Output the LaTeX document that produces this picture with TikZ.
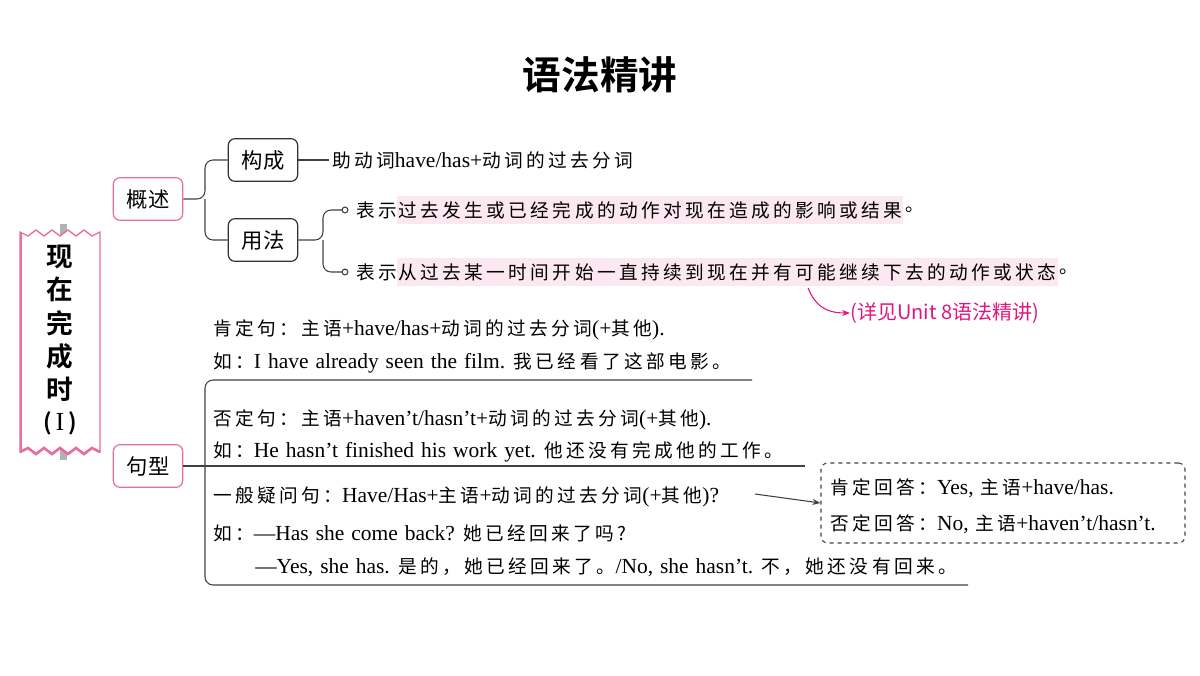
\documentclass[tikz,border=0pt]{standalone}
\usepackage{fontspec}
\setmainfont{Liberation Serif}[Scale=1.15,WordSpace=1.3]
\newfontfamily\cjk{Noto Sans CJK SC}[LetterSpace=18]
\newfontfamily\cjkb{Noto Sans CJK SC Bold}
\newfontfamily\cjkn{Noto Sans CJK SC}
\newcommand\zh[1]{{\cjk #1}}
\definecolor{pk}{RGB}{232,110,160}
\definecolor{mg}{RGB}{225,20,130}
\definecolor{hl}{RGB}{252,232,240}
\usetikzlibrary{arrows.meta,positioning}
\begin{document}
\begin{tikzpicture}[x=0.75pt,y=-0.75pt,
  txt/.style={anchor=west,inner sep=0,font=\fontsize{14}{16}\selectfont},
  pbox/.style={draw=pk,line width=0.9pt,rounded corners=5pt,minimum width=52pt,minimum height=32pt,font=\cjkn\fontsize{16}{18}\selectfont},
  bbox/.style={draw=black!80,line width=0.9pt,rounded corners=5pt,minimum width=52pt,minimum height=32pt,font=\cjkn\fontsize{16}{18}\selectfont},
  ln/.style={draw=black!75,line width=0.8pt},
  hlt/.style={txt,fill=hl,inner ysep=4pt,inner xsep=1pt}]
\useasboundingbox (0,0) rectangle (1200,675);
\node[font=\cjkb\fontsize{29}{32}\selectfont] (title) at (600,75) {语法精讲};
% banner
\fill[gray!60] (60,224) rectangle (67,460);
\filldraw[draw=pk,fill=white,line width=1pt] (20,232) -- (28,236)--(36,230)--(44,236)--(52,230)--(60,236)--(68,230)--(76,236)--(84,230)--(92,236)--(100,232)
 -- (100,452) -- (92,448)--(84,454)--(76,448)--(68,454)--(60,448)--(52,454)--(44,448)--(36,454)--(28,448)--(20,452) -- cycle;
\draw[pk,line width=2.2pt] (21,233) -- (21,451);
\draw[pk,line width=2pt] (20,452) -- (28,448)--(36,454)--(44,448)--(52,454)--(60,448)--(68,454)--(76,448)--(84,454)--(92,448)--(100,452);
\node[font=\cjkb\fontsize{20}{25}\selectfont,align=center] (banner) at (60,340) {现\\在\\完\\成\\时\\[-2pt]{\fontsize{17}{20}\selectfont (\,\textrm{I}\,)}};
% boxes
\node[pbox] (gs) at (148,199) {概述};
\node[pbox] (jx) at (148,466) {句型};
\node[bbox] (gc) at (263,160) {构成};
\node[bbox] (yf) at (263,240) {用法};
\draw[ln,rounded corners=6pt] (gs.east) -- (205,199) |- (gc.west);
\draw[ln,rounded corners=6pt] (205,199) |- (yf.west);
\node[txt] (gct) at (332,160) {\zh{助动词}have/has+\zh{动词的过去分词}};
\draw[ln] (gc.east) -- ([xshift=-2pt]gct.west);
\coordinate (c1) at (345,210); \coordinate (c2) at (345,272);
\draw[ln,rounded corners=6pt] (yf.east) -- (323,240) |- (c1);
\draw[ln,rounded corners=6pt] (323,240) |- (c2);
\draw[ln,fill=white] (c1) circle (2.2pt); \draw[ln,fill=white] (c2) circle (2.2pt);
\node[txt] (u1a) at (356,210) {\zh{表示}};
\node[hlt,right=0pt of u1a] (u1b) {\zh{过去发生或已经完成的动作对现在造成的影响或结果}};
\node[txt,right=1pt of u1b] (u1c) {\zh{。}};
\node[txt] (u2a) at (356,272) {\zh{表示}};
\node[hlt,right=0pt of u2a] (u2b) {\zh{从过去某一时间开始一直持续到现在并有可能继续下去的动作或状态}};
\node[txt,right=1pt of u2b] (u2c) {\zh{。}};
\node[txt,text=mg,font=\cjkn\fontsize{15}{18}\selectfont] (see) at (850,313) {(详见Unit 8语法精讲)};
\coordinate (as) at (808,288);
\draw[mg,line width=0.8pt,-{Stealth[length=6pt]}] (as) .. controls (815,305) and (825,313) .. (see.west);
% sentence patterns
\node[txt] (s1) at (213,330) {\zh{肯定句：主语}+have/has+\zh{动词的过去分词}(+\zh{其他}).};
\node[txt] (s1e) at (213,363) {\zh{如：}I have already seen the film. \zh{我已经看了这部电影。}};
\node[txt] (s2) at (213,420) {\zh{否定句：主语}+haven’t/hasn’t+\zh{动词的过去分词}(+\zh{其他}).};
\node[txt] (s2e) at (213,452) {\zh{如：}He hasn’t finished his work yet. \zh{他还没有完成他的工作。}};
\node[txt] (s3) at (213,497) {\zh{一般疑问句：}Have/Has+\zh{主语}+\zh{动词的过去分词}(+\zh{其他})?};
\node[txt] (s3e) at (213,533) {\zh{如：}—Has she come back? \zh{她已经回来了吗?}};
\node[txt] (s3f) at (255,567) {—Yes, she has. \zh{是的，她已经回来了。}/No, she hasn’t. \zh{不，她还没有回来。}};
\draw[ln] (jx.east) -- (805,466);
\draw[ln,rounded corners=6pt] (752,380) -- (205,380) -- (205,585) -- (968,585);
\node[draw=black!75,dashed,line width=0.8pt,rounded corners=5pt,minimum width=273pt,minimum height=60pt] (ans) at (1003,503) {};
\node[txt] (a1) at (830,488) {\zh{肯定回答：}Yes, \zh{主语}+have/has.};
\node[txt] (a2) at (830,524) {\zh{否定回答：}No, \zh{主语}+haven’t/hasn’t.};
\draw[ln,-{Stealth[length=6pt]}] (755,494) -- (ans.west);
\end{tikzpicture}
\end{document}
